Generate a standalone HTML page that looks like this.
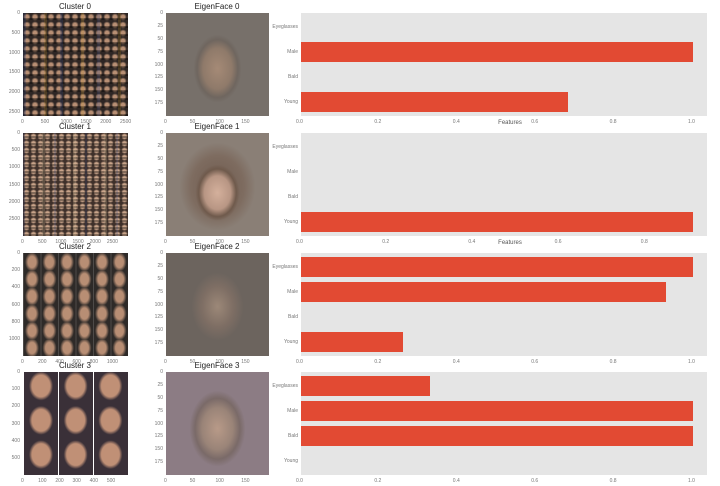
<!DOCTYPE html><html><head><style>
body{margin:0;width:720px;height:486px;background:#fff;position:relative;overflow:hidden;font-family:"Liberation Sans",sans-serif}
.t{position:absolute;font-size:8px;color:#222;text-align:center}
.k{position:absolute;font-size:5px;color:#777;white-space:nowrap}
.mos{position:absolute;background-color:#6a5548}
.ef{position:absolute}
.panel{position:absolute;left:301px;width:406px;height:103px;background:#e5e5e5}
.bar{position:absolute;left:0;height:20px;background:#e24a33}
</style></head><body>
<!-- row 0 -->
<div class="t" style="left:22px;top:2px;width:106px">Cluster 0</div>
<div class="mos" style="left:23px;top:13px;width:105px;height:103px;background:
repeating-linear-gradient(90deg,rgba(40,60,120,.25) 0 3px,transparent 3px 21px,rgba(200,150,40,.2) 21px 24px,transparent 24px 37px),
repeating-linear-gradient(0deg,rgba(0,0,0,.35) 0 2px,transparent 2px 8px),
radial-gradient(circle at 4px 4px,#b88f74 1.8px,#2e2624 3.8px) 0 0/8px 8px"></div>
<div class="t" style="left:165px;top:2px;width:104px">EigenFace 0</div>
<div class="ef" style="left:166px;top:13px;width:103px;height:103px;background:radial-gradient(ellipse 24px 34px at 50% 54%,#a58a76 0,#8f7a6a 60%,#6f665f 85%,#77706a 100%),#77706a"></div>
<div class="panel" style="top:13px"><div class="bar" style="top:29px;width:392px"></div><div class="bar" style="top:79px;width:267px"></div></div>
<div class="t" style="left:480px;top:120px;width:60px;font-size:6px;color:#555">Features</div>
<!-- row 1 -->
<div class="t" style="left:22px;top:122px;width:106px">Cluster 1</div>
<div class="mos" style="left:23px;top:133px;width:105px;height:103px;background:
repeating-linear-gradient(90deg,rgba(40,60,120,.2) 0 2px,transparent 2px 19px,rgba(220,200,160,.2) 19px 22px,transparent 22px 31px),
repeating-linear-gradient(0deg,rgba(0,0,0,.35) 0 2px,transparent 2px 7px),
radial-gradient(circle at 3.5px 3.5px,#c9a48a 1.8px,#3e302a 3.5px) 0 0/7px 7px"></div>
<div class="t" style="left:165px;top:122px;width:104px">EigenFace 1</div>
<div class="ef" style="left:166px;top:133px;width:103px;height:103px;background:radial-gradient(ellipse 22px 28px at 50% 58%,#d4b09c 0,#b89684 60%,#6f5a4c 85%,transparent 100%),radial-gradient(ellipse 38px 44px at 50% 52%,#6e5a4e 0,#7e6c60 70%,#8a7f76 100%),#8a7f76"></div>
<div class="panel" style="top:133px"><div class="bar" style="top:79px;width:392px"></div></div>
<div class="t" style="left:480px;top:240px;width:60px;font-size:6px;color:#555">Features</div>
<!-- row 2 -->
<div class="t" style="left:22px;top:242px;width:106px">Cluster 2</div>
<div class="mos" style="left:23px;top:253px;width:105px;height:103px;background:
repeating-linear-gradient(90deg,rgba(255,255,255,.15) 0 1px,transparent 1px 17.5px),
radial-gradient(ellipse 5px 7px at 9px 9px,#b88e74 4px,#2e2a28 7px) 0 0/17.5px 17.2px"></div>
<div class="t" style="left:165px;top:242px;width:104px">EigenFace 2</div>
<div class="ef" style="left:166px;top:253px;width:103px;height:103px;background:radial-gradient(ellipse 26px 34px at 50% 52%,#9c8878 0,#7e6e64 60%,#6c645e 100%),#6c645e"></div>
<div class="panel" style="top:253px"><div class="bar" style="top:4px;width:392px"></div><div class="bar" style="top:29px;width:365px"></div><div class="bar" style="top:79px;width:102px"></div></div>
<!-- row 3 -->
<div class="t" style="left:22px;top:361px;width:106px">Cluster 3</div>
<div class="mos" style="left:24px;top:372px;width:104px;height:103px;background:
repeating-linear-gradient(90deg,transparent 0 34px,#fff 34px 35px),
radial-gradient(ellipse 10px 12px at 17px 14px,#c09076 9px,#3a3038 12px) 0 0/34.7px 34.3px"></div>
<div class="t" style="left:165px;top:361px;width:104px">EigenFace 3</div>
<div class="ef" style="left:166px;top:372px;width:103px;height:103px;background:radial-gradient(ellipse 28px 38px at 50% 55%,#b89a88 0,#9a8478 55%,#7a6a68 80%,#8c7c84 100%),#8c7c84"></div>
<div class="panel" style="top:372px"><div class="bar" style="top:4px;width:129px"></div><div class="bar" style="top:29px;width:392px"></div><div class="bar" style="top:54px;width:392px"></div></div>

<div id="lbl"></div>
<script>
var out='';
var rows=[13,133,253,372];
var cats=['Eyeglasses','Male','Bald','Young'];
rows.forEach(function(y,r){
 cats.forEach(function(c,i){out+='<div class="k" style="left:255px;width:43px;text-align:right;top:'+(y+11+i*25)+'px">'+c+'</div>';});
 var tk=r==1?['0.0','0.2','0.4','0.6','0.8']:['0.0','0.2','0.4','0.6','0.8','1.0'];
 var sc=r==1?431:392;
 tk.forEach(function(v){out+='<div class="k" style="left:'+(301+parseFloat(v)*sc-5)+'px;top:'+(y+106)+'px">'+v+'</div>';});
 [0,25,50,75,100,125,150,175].forEach(function(v){out+='<div class="k" style="left:148px;width:15px;text-align:right;top:'+(y-3+v*0.515)+'px">'+v+'</div>';});
 [0,50,100,150].forEach(function(v){out+='<div class="k" style="left:'+(164+v*0.515)+'px;top:'+(y+106)+'px">'+v+'</div>';});
});
var cl=[[0,500,1000,1500,2000,2500],[0,500,1000,1500,2000,2500],[0,200,400,600,800,1000],[0,100,200,300,400,500]];
var mx=[2600,3000,1200,600];
cl.forEach(function(t,r){var y=rows[r];t.forEach(function(v){var p=v/mx[r]*103;
 out+='<div class="k" style="left:2px;width:18px;text-align:right;top:'+(y-3+p)+'px">'+v+'</div>';
 out+='<div class="k" style="left:'+(21+p)+'px;top:'+(y+106)+'px">'+v+'</div>';});});
document.getElementById('lbl').innerHTML=out;
</script>
</body></html>
